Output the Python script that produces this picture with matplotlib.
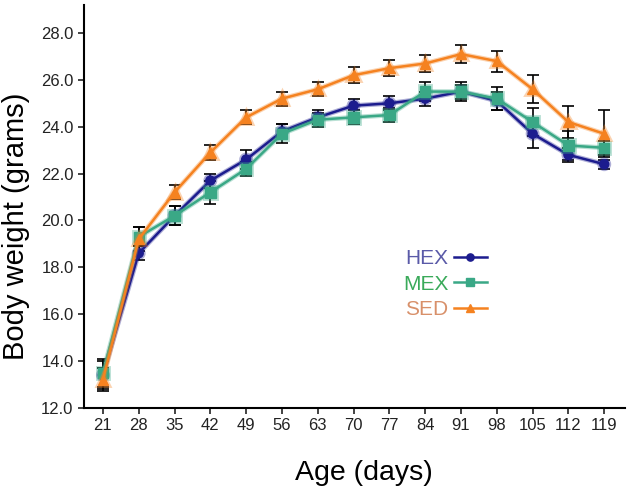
import matplotlib
matplotlib.use("Agg")
import matplotlib.pyplot as plt
import matplotlib.patheffects as pe
from matplotlib.lines import Line2D

plt.rcParams['font.family'] = ['Liberation Sans', 'DejaVu Sans']

days = [21, 28, 35, 42, 49, 56, 63, 70, 77, 84, 91, 98, 105, 112, 119]

hex_mean = [13.4, 18.6, 20.2, 21.7, 22.6, 23.8, 24.4, 24.9, 25.0, 25.2, 25.5, 25.1, 23.7, 22.8, 22.4]
hex_err = [0.6, 0.3, 0.4, 0.3, 0.4, 0.3, 0.3, 0.3, 0.3, 0.3, 0.3, 0.4, 0.6, 0.3, 0.2]

mex_mean = [13.5, 19.3, 20.2, 21.2, 22.2, 23.7, 24.3, 24.4, 24.5, 25.5, 25.5, 25.2, 24.2, 23.2, 23.1]
mex_err = [0.6, 0.4, 0.4, 0.5, 0.3, 0.4, 0.3, 0.3, 0.3, 0.4, 0.4, 0.5, 0.6, 0.6, 0.3]

sed_mean = [13.2, 19.2, 21.2, 22.9, 24.4, 25.2, 25.6, 26.2, 26.5, 26.7, 27.1, 26.8, 25.6, 24.2, 23.7]
sed_err = [0.5, 0.5, 0.3, 0.3, 0.3, 0.3, 0.3, 0.35, 0.35, 0.35, 0.4, 0.45, 0.6, 0.7, 1.0]

series = [
    ("HEX", hex_mean, hex_err, "#1c1c8e", "o", 6.5, "#5a5aa8"),
    ("MEX", mex_mean, mex_err, "#3aa886", "s", 7.5, "#3aaa5a"),
    ("SED", sed_mean, sed_err, "#f58220", "^", 7.5, "#d8906a"),
]

fig = plt.figure(figsize=(6.29, 4.92), dpi=100)
ax = fig.add_axes([0.1335, 0.171, 0.8605, 0.819])

handles = []
for name, m, e, col, mk, ms, tcol in series:
    ax.errorbar(days, m, yerr=e, fmt="none", ecolor="black", elinewidth=1.2,
                capsize=4, capthick=1.2, zorder=2)
    ax.plot(days, m, color=col, marker=mk, markersize=ms, linewidth=1.8, zorder=3,
            path_effects=[pe.Stroke(linewidth=3.5, foreground=col, alpha=0.35), pe.Normal()])
    handles.append(Line2D([], [], color=col, marker=mk, markersize=ms * 0.8,
                          linewidth=1.8, label=name))

ax.set_xlim(17.3, 123.1)
ax.set_ylim(12, 29.2)
ax.set_xticks(days)
ax.set_yticks([12, 14, 16, 18, 20, 22, 24, 26, 28])
ax.set_yticklabels(["%.1f" % v for v in [12, 14, 16, 18, 20, 22, 24, 26, 28]])
ax.tick_params(labelsize=12, length=4, width=1.2, colors="#222222")
for s in ["top", "right"]:
    ax.spines[s].set_visible(False)
for s in ["left", "bottom"]:
    ax.spines[s].set_linewidth(1.5)

ax.set_xlabel("Age (days)", fontsize=20.5)
ax.set_ylabel("Body weight (grams)", fontsize=21)
ax.xaxis.set_label_coords(0.518, -0.13)
ax.yaxis.set_label_coords(-0.1, 0.45)

leg = ax.legend(handles=handles, loc="upper left", bbox_to_anchor=(403 / 629, 1 - 249 / 492),
                bbox_transform=fig.transFigure, frameon=False, markerfirst=False,
                fontsize=15, handlelength=1.6, handletextpad=0.25, labelspacing=0.32,
                borderpad=0, borderaxespad=0)
for txt, s in zip(leg.get_texts(), series):
    txt.set_color(s[6])

fig.savefig("out.png", dpi=100)
